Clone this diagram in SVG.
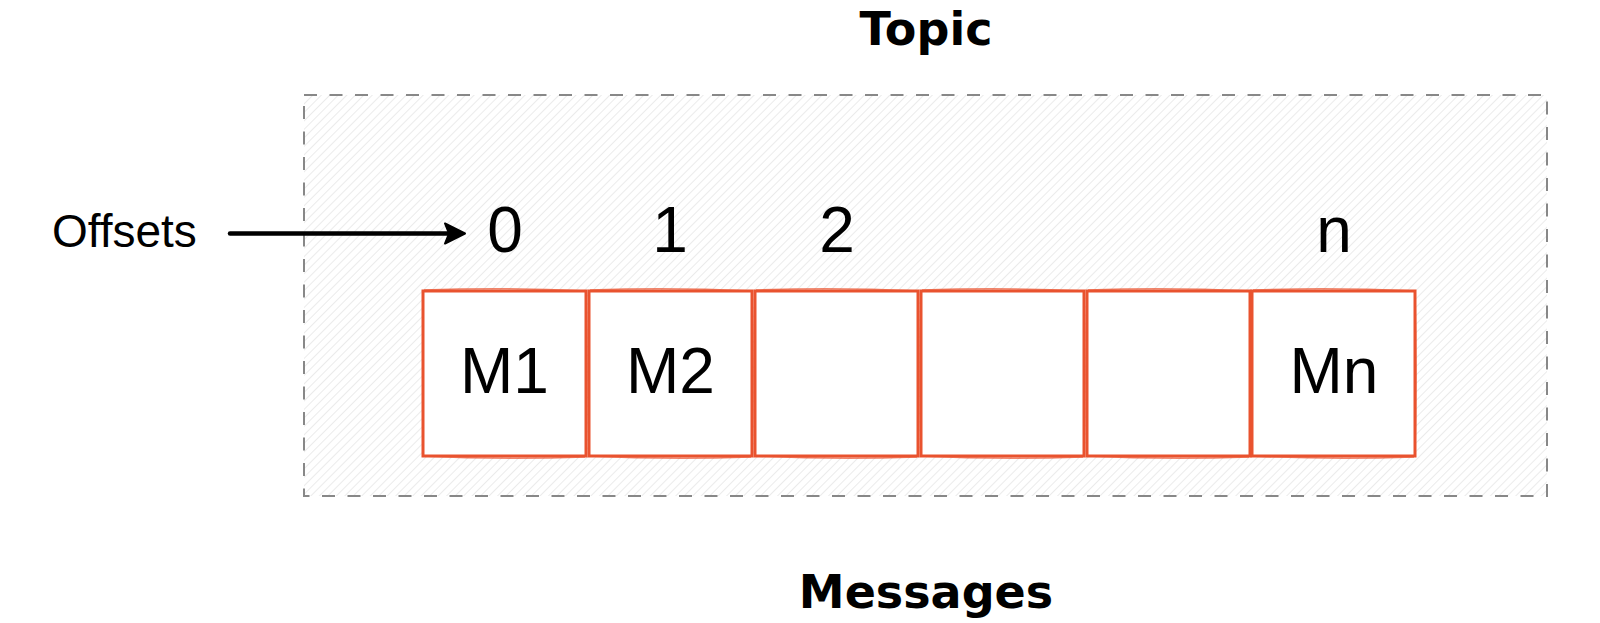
<svg xmlns="http://www.w3.org/2000/svg" width="1600" height="623" viewBox="0 0 1600 623">
<style>
.title{font-family:"DejaVu Sans",sans-serif;font-weight:bold;font-size:46px;fill:#000;text-anchor:middle}
.lbl{font-family:"Liberation Sans",Arial,sans-serif;font-size:64px;fill:#000;text-anchor:middle}
.off{font-family:"Liberation Sans",Arial,sans-serif;font-size:46px;fill:#000}
.box{fill:#fff;stroke:#e9532f;stroke-width:3}
.box2{fill:none;stroke:#e9532f;stroke-width:1.5;opacity:0.7}
</style>
<defs>
<pattern id="hatch" patternUnits="userSpaceOnUse" width="6" height="6" patternTransform="rotate(45)">
<rect width="6" height="6" fill="#fff"/>
<line x1="0" y1="0" x2="0" y2="6" stroke="#dedede" stroke-width="1.2"/>
</pattern>
</defs>
<rect width="1600" height="623" fill="#fff"/>
<g id="topic">
<rect x="304" y="95" width="1243" height="401" fill="url(#hatch)" stroke="#888" stroke-width="2" stroke-dasharray="13 12.5"/>
<text class="title" x="926" y="45">Topic</text>
</g>
<g id="messages-label"><text class="title" x="926" y="608">Messages</text></g>
<g id="offsets-label"><text class="off" x="52" y="247">Offsets</text></g>
<g id="offsets">
<text class="lbl" x="505" y="252">0</text>
<text class="lbl" x="670" y="252">1</text>
<text class="lbl" x="837" y="252">2</text>
<text class="lbl" x="1334" y="252">n</text>
</g>
<g id="m1"><rect class="box" x="423" y="291" width="163" height="165"/><path class="box2" d="M424,290 Q505,287 587,291 M586,292 Q588,373 586,457 M585,457 Q505,460 422,456"/><text class="lbl" x="504.5" y="393">M1</text></g>
<g id="m2"><rect class="box" x="589" y="291" width="163" height="165"/><path class="box2" d="M590,290 Q670,287 753,291 M752,292 Q754,373 752,457 M751,457 Q670,460 588,456"/><text class="lbl" x="670.5" y="393">M2</text></g>
<g id="m3"><rect class="box" x="755" y="291" width="163" height="165"/><path class="box2" d="M756,290 Q836,287 919,291 M918,292 Q920,373 918,457 M917,457 Q836,460 754,456"/></g>
<g id="m4"><rect class="box" x="921" y="291" width="163" height="165"/><path class="box2" d="M922,290 Q1002,287 1085,291 M1084,292 Q1086,373 1084,457 M1083,457 Q1002,460 920,456"/></g>
<g id="m5"><rect class="box" x="1087" y="291" width="163" height="165"/><path class="box2" d="M1088,290 Q1168,287 1251,291 M1250,292 Q1252,373 1250,457 M1249,457 Q1168,460 1086,456"/></g>
<g id="mn"><rect class="box" x="1252" y="291" width="163" height="165"/><path class="box2" d="M1253,290 Q1333,287 1416,291 M1415,292 Q1417,373 1415,457 M1414,457 Q1333,460 1251,456"/><text class="lbl" x="1334" y="393">Mn</text></g>
<g id="connectors">
<line x1="230" y1="233.5" x2="450" y2="233.5" stroke="#000" stroke-width="4.5" stroke-linecap="round"/>
<path d="M445,223.5 L465,233.5 L445,243.5 L449,233.5 Z" fill="#000" stroke="#000" stroke-width="2" stroke-linejoin="round"/>
</g>
</svg>
